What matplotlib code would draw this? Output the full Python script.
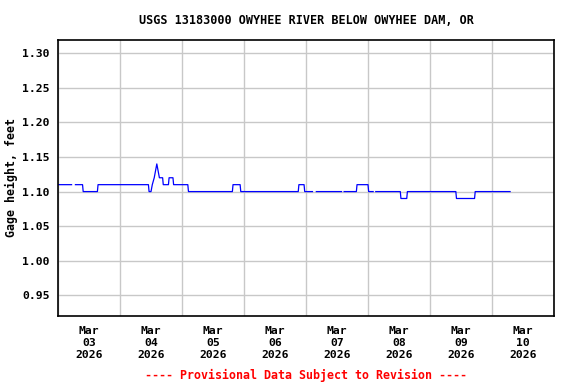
import numpy as np
import pandas as pd
import matplotlib
matplotlib.use("Agg")
import matplotlib.pyplot as plt

# --------------------------------
# Data (breakpoints of 15-min record)
# --------------------------------
title = "USGS 13183000 OWYHEE RIVER BELOW OWYHEE DAM, OR"
ylabel = "Gage height, feet"
note = "---- Provisional Data Subject to Revision ----"

times = [
    "2026-03-03 00:00", "2026-03-03 05:15", "2026-03-03 06:00",
    "2026-03-03 06:45", "2026-03-03 09:30", "2026-03-03 09:45",
    "2026-03-03 15:15", "2026-03-03 15:30",
    "2026-03-04 11:00", "2026-03-04 11:15", "2026-03-04 12:00",
    "2026-03-04 12:30", "2026-03-04 13:15", "2026-03-04 13:45",
    "2026-03-04 14:15", "2026-03-04 14:45", "2026-03-04 15:15",
    "2026-03-04 16:30", "2026-03-04 16:45", "2026-03-04 18:45",
    "2026-03-04 19:00", "2026-03-04 20:30", "2026-03-04 20:45",
    "2026-03-05 02:15", "2026-03-05 02:30", "2026-03-05 19:30",
    "2026-03-05 19:45", "2026-03-05 22:30", "2026-03-05 22:45",
    "2026-03-06 21:00", "2026-03-06 21:15", "2026-03-06 23:15",
    "2026-03-06 23:30", "2026-03-07 02:30", "2026-03-07 03:00",
    "2026-03-07 04:00", "2026-03-07 13:45", "2026-03-07 14:15",
    "2026-03-07 14:45", "2026-03-07 19:30", "2026-03-07 19:45",
    "2026-03-08 00:00", "2026-03-08 00:15", "2026-03-08 02:00",
    "2026-03-08 02:30", "2026-03-08 03:00", "2026-03-08 12:30",
    "2026-03-08 12:45", "2026-03-08 15:00", "2026-03-08 15:15",
    "2026-03-09 10:00", "2026-03-09 10:15", "2026-03-09 17:15",
    "2026-03-09 17:30", "2026-03-10 07:00",
]
gage = [
    1.11, 1.11, np.nan,
    1.11, 1.11, 1.10,
    1.10, 1.11,
    1.11, 1.10, 1.10,
    1.11, 1.12, 1.13,
    1.14, 1.13, 1.12,
    1.12, 1.11, 1.11,
    1.12, 1.12, 1.11,
    1.11, 1.10, 1.10,
    1.11, 1.11, 1.10,
    1.10, 1.11, 1.11,
    1.10, 1.10, np.nan,
    1.10, 1.10, np.nan,
    1.10, 1.10, 1.11,
    1.11, 1.10, 1.10,
    np.nan, 1.10, 1.10,
    1.09, 1.09, 1.10,
    1.10, 1.09, 1.09,
    1.10, 1.10,
]

day_labels = ["Mar\n03\n2026", "Mar\n04\n2026", "Mar\n05\n2026", "Mar\n06\n2026",
              "Mar\n07\n2026", "Mar\n08\n2026", "Mar\n09\n2026", "Mar\n10\n2026"]
y_ticks = [0.95, 1.00, 1.05, 1.10, 1.15, 1.20, 1.25, 1.30]

t = pd.to_datetime(times)
start = pd.Timestamp("2026-03-03")
end = pd.Timestamp("2026-03-11")
midnights = pd.date_range(start, end, freq="D")
noons = midnights[:-1] + pd.Timedelta(hours=12)

# --------------------------------
# Plot
# --------------------------------
plt.rcParams["font.family"] = "DejaVu Sans Mono"
plt.rcParams["font.weight"] = "bold"

fig = plt.figure(figsize=(5.76, 3.84), dpi=100)
ax = fig.add_axes([0.1007, 0.1771, 0.8611, 0.7200])

ax.plot(t, gage, color="#0000ff", linewidth=0.9)

ax.set_xlim(start, end)
ax.set_ylim(0.92, 1.32)
ax.set_yticks(y_ticks)
ax.set_yticklabels([f"{v:.2f}" for v in y_ticks], fontsize=8.2, fontweight="bold")

ax.set_xticks(midnights)
ax.set_xticklabels([])
ax.set_xticks(noons, minor=True)
ax.set_xticklabels(day_labels, minor=True, fontsize=8.2, fontweight="bold",
                   linespacing=1.25)
ax.tick_params(axis="both", which="both", length=0)
ax.tick_params(axis="x", which="minor", pad=7)
ax.tick_params(axis="y", pad=6)

ax.grid(True, which="major", color="#c8c8c8", linewidth=1.0)
ax.set_axisbelow(True)
for s in ax.spines.values():
    s.set_linewidth(1.2)
    s.set_color("black")

ax.set_ylabel(ylabel, fontsize=8.4, fontweight="bold", labelpad=3)

# title and note are centred over the plot area, not the figure
xc = (58 + 554) / 2 / 576
fig.text(xc, 1 - 20 / 384, title, ha="center", va="center",
         fontsize=8.5, fontweight="bold")
fig.text(xc, 1 - 375 / 384, note, ha="center", va="center",
         fontsize=8.4, fontweight="bold", color="red")

fig.savefig("out.png", dpi=100)
